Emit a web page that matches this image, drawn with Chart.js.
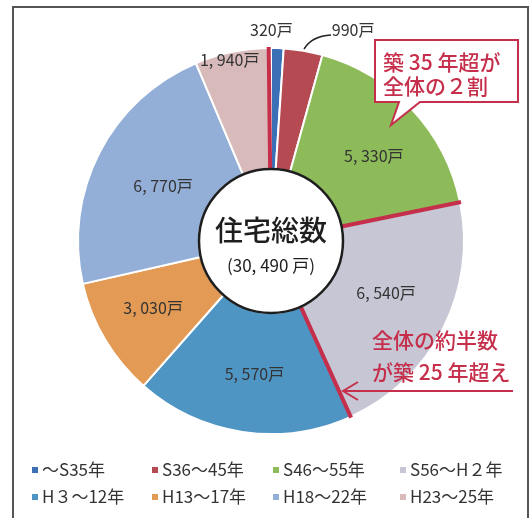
<!DOCTYPE html>
<html>
<head>
<meta charset="utf-8">
<script src="https://cdn.jsdelivr.net/npm/chart.js@4/dist/chart.umd.min.js"></script>
<style>
  body { margin: 0; background: #fff; }
  #wrap { width: 531px; height: 518px; }
</style>
</head>
<body>
<div id="wrap"><canvas id="pieChart" width="531" height="518"></canvas></div>
<script>
// 建築年代別の住宅数
const periods = ["～S35年", "S36～45年", "S46～55年", "S56～H２年", "H３～12年", "H13～17年", "H18～22年", "H23～25年"];
const houses = [320, 990, 5330, 6540, 5570, 3030, 6770, 1940];
const sliceColors = ["#3b6fb6", "#b54a52", "#8dbb5a", "#c6c6d4", "#4f95c4", "#e29a55", "#93afd8", "#d9baba"];
const totalLabel = "(30, 490 戸)";

const JP = '"Noto Sans CJK JP", "Noto Sans", sans-serif';
const RED = "#c62f4b";

// label nudges from the slice centroid (px)
const labelNudge = [[-4, -79], [60, -80], [6, 5], [-3, -8], [3, 2], [-4, -1], [10, 5], [-15, -51]];

function fmt(v) {
    return v.toLocaleString("en-US").replace(",", ", ") + "戸";
}

const overlay = {
    id: "overlay",
    beforeDraw(chart) {
        const ctx = chart.ctx;
        ctx.save();
        ctx.strokeStyle = "#555";
        ctx.lineWidth = 2;
        ctx.strokeRect(13, 7, 515, 530);
        ctx.restore();
    },
    afterDraw(chart) {
        const ctx = chart.ctx;
        const arcs = chart.getDatasetMeta(0).data;
        const cx = arcs[0].x, cy = arcs[0].y;
        const rIn = arcs[0].innerRadius, rOut = arcs[0].outerRadius;
        ctx.save();

        // red boundary lines: start of 1st slice, end of 3rd and 4th slices
        const redAngles = [arcs[0].startAngle, arcs[2].endAngle, arcs[3].endAngle];
        ctx.strokeStyle = RED;
        ctx.lineWidth = 4;
        redAngles.forEach((a, i) => {
            const shift = i === 0 ? -0.012 : 0;
            ctx.beginPath();
            ctx.moveTo(cx + Math.cos(a + shift) * rIn, cy + Math.sin(a + shift) * rIn);
            ctx.lineTo(cx + Math.cos(a + shift) * (rOut + 1), cy + Math.sin(a + shift) * (rOut + 1));
            ctx.stroke();
        });

        // centre circle
        ctx.beginPath();
        ctx.arc(cx, cy, rIn, 0, Math.PI * 2);
        ctx.fillStyle = "#fff";
        ctx.fill();
        ctx.strokeStyle = "#1e1e1e";
        ctx.lineWidth = 2.5;
        ctx.stroke();

        ctx.fillStyle = "#1e1e1e";
        ctx.textAlign = "center";
        ctx.textBaseline = "middle";
        ctx.font = "500 28px " + JP;
        ctx.fillText("住宅総数", cx, cy - 11);
        ctx.font = "17px " + JP;
        ctx.fillText(totalLabel, cx, cy + 25);

        // value labels
        ctx.fillStyle = "#333";
        ctx.font = "16px " + JP;
        arcs.forEach((arc, i) => {
            const mid = (arc.startAngle + arc.endAngle) / 2;
            const rr = (rIn + rOut) / 2;
            const x = cx + Math.cos(mid) * rr + labelNudge[i][0];
            const y = cy + Math.sin(mid) * rr + labelNudge[i][1];
            ctx.fillText(fmt(houses[i]), x, y);
        });

        // leader line for 990
        ctx.strokeStyle = "#222";
        ctx.lineWidth = 1.5;
        ctx.beginPath();
        ctx.moveTo(304, 49);
        ctx.quadraticCurveTo(312, 36, 331, 35);
        ctx.stroke();

        // callout 1
        ctx.fillStyle = "#fff";
        ctx.strokeStyle = RED;
        ctx.lineWidth = 2;
        ctx.beginPath();
        ctx.moveTo(375, 40);
        ctx.lineTo(518, 40);
        ctx.lineTo(518, 102);
        ctx.lineTo(420, 102);
        ctx.lineTo(391, 125);
        ctx.lineTo(399, 102);
        ctx.lineTo(375, 102);
        ctx.closePath();
        ctx.fill();
        ctx.stroke();
        ctx.fillStyle = RED;
        ctx.font = "500 21px " + JP;
        ctx.textAlign = "left";
        ctx.fillText("築 35 年超が", 383, 62);
        ctx.fillText("全体の２割", 383, 86);

        // callout 2
        ctx.fillText("全体の約半数", 372, 340);
        ctx.fillText("が築 25 年超え", 372, 372);
        ctx.beginPath();
        ctx.moveTo(513, 391);
        ctx.lineTo(343, 391);
        ctx.moveTo(358, 382);
        ctx.lineTo(343, 391);
        ctx.lineTo(358, 400);
        ctx.stroke();

        // legend
        const colX = [32, 152, 273, 400];
        const rowY = [470, 497];
        ctx.font = "17px " + JP;
        periods.forEach((p, i) => {
            const x = colX[i % 4], y = rowY[Math.floor(i / 4)];
            ctx.fillStyle = sliceColors[i];
            ctx.fillRect(x, y - 3, 6, 6);
            ctx.fillStyle = "#333";
            ctx.fillText(p, x + 10, y);
        });
        ctx.restore();
    }
};

new Chart(document.getElementById("pieChart").getContext("2d"), {
    type: "doughnut",
    data: {
        labels: periods,
        datasets: [{
            data: houses,
            backgroundColor: sliceColors,
            borderColor: "#fff",
            borderWidth: 2
        }]
    },
    options: {
        responsive: false,
        animation: false,
        cutout: 72,
        layout: { padding: { left: 77, right: 66, top: 47, bottom: 83 } },
        plugins: { legend: { display: false }, tooltip: { enabled: false } }
    },
    plugins: [overlay]
});
</script>
</body>
</html>
